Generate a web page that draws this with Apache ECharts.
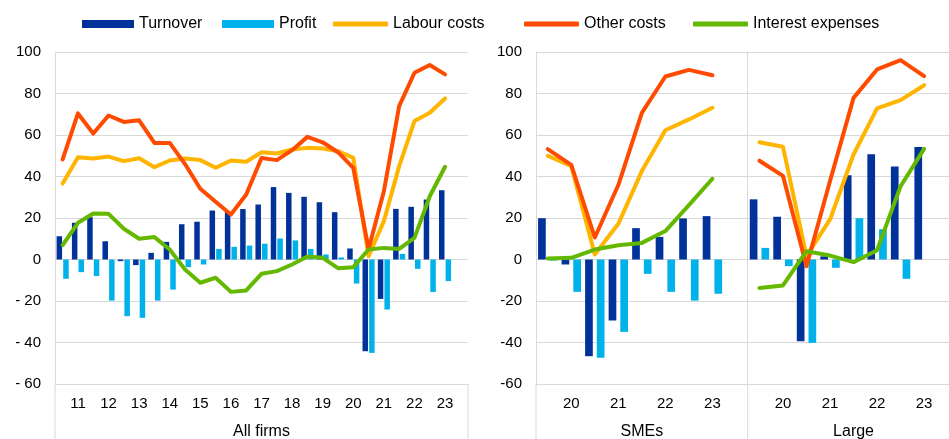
<!DOCTYPE html>
<html>
<head>
<meta charset="utf-8">
<script src="https://cdn.jsdelivr.net/npm/echarts@6/dist/echarts.min.js"></script>
<style>
  html, body { margin: 0; padding: 0; background: #fff; }
  #main { width: 949px; height: 439px; }
</style>
</head>
<body>
<div id="main"></div>
<script>
// tick labels, one per half-year slot (last slot is empty)
const allTicks = ['', '11', '', '12', '', '13', '', '14', '', '15', '', '16', '', '17', '', '18', '', '19', '', '20', '', '21', '', '22', '', '23', ''];
const subTicks = ['', '20', '', '21', '', '22', '', '23', ''];

// All firms
const turnoverAll = [11.2, 17.7, 20.4, 8.8, -0.8, -2.7, 3.2, 8.5, 17, 18.2, 23.6, 23, 24.3, 26.5, 34.9, 32.1, 30.2, 27.6, 22.8, 5.3, -44.2, -19, 24.4, 25.4, 28.9, 33.4];
const profitAll = [-9.3, -6.1, -8, -19.8, -27.3, -28.1, -19.8, -14.5, -3.7, -2.4, 5.1, 6.1, 6.7, 7.6, 10.1, 9.2, 5.1, 2.4, 1, -11.6, -45, -24.1, 2.7, -4.5, -15.7, -10.4];
const labourAll = [36.6, 49.3, 48.7, 49.6, 47.4, 48.8, 44.5, 47.7, 48.7, 47.9, 44.2, 47.7, 47.1, 51.7, 51.1, 53, 53.8, 53.5, 52.2, 49, 1.6, 18.5, 45, 66.7, 70.7, 77.6];
const otherAll = [48.2, 70.4, 60.7, 69.4, 66.3, 67.1, 56.2, 56.2, 46, 34.1, 27.8, 21.7, 31.3, 48.9, 47.9, 52.7, 59.1, 56.5, 51.7, 44.2, 5, 32.9, 73.9, 90, 93.7, 89.2];
const interestAll = [6.9, 17.7, 22.2, 22, 14.8, 10, 10.8, 4.8, -4.8, -11.2, -8.8, -15.6, -14.9, -6.9, -5.6, -2.4, 1.4, 0.8, -4.2, -3.7, 4.8, 5.6, 5.1, 10.4, 30.5, 44.7];

// SMEs
const turnoverSme = [19.9, -2.4, -46.6, -29.4, 15.1, 10.9, 19.8, 20.9];
const profitSme = [-0.5, -15.6, -47.4, -34.9, -6.9, -15.6, -19.8, -16.5];
const labourSme = [50, 45, 2.4, 17.2, 42.6, 62.3, 67.5, 73.1];
const otherSme = [53.2, 45.6, 10.6, 35.9, 70.7, 88.2, 91.4, 88.8];
const interestSme = [0.5, 0.8, 4.8, 6.9, 8, 13.7, 26.2, 38.9];

// Large
const turnoverLarge = [29, 20.6, -39.4, 1.5, 40.6, 50.7, 44.8, 54.2];
const profitLarge = [5.6, -3.2, -40.2, -4, 19.9, 14.6, -9.3, 0];
const labourLarge = [56.5, 54.3, 1.6, 19.3, 50.6, 72.8, 76.8, 84];
const otherLarge = [47.6, 40.3, -3.2, 37.8, 77.9, 91.6, 96.1, 88.4];
const interestLarge = [-13.7, -12.5, 4, 1.9, -1.3, 4.5, 35.3, 53.3];

const C_TURN = '#003299', C_PROF = '#00B1EA', C_LAB = '#FFB400', C_OTH = '#FF4B00', C_INT = '#65B800';
const FONT = "'Liberation Sans', Arial, sans-serif";
const GRID_TOP = 52, GRID_BOTTOM = 55, H = 439;
const panels = [
  { left: 55, width: 413, ticks: allTicks, name: 'All firms', bw: 5.5, gap: '20%',
    data: [turnoverAll, profitAll, labourAll, otherAll, interestAll], labels: true, minus: '- ' },
  { left: 536, width: 211.7, ticks: subTicks, name: 'SMEs', bw: 7.7, gap: '52%',
    data: [turnoverSme, profitSme, labourSme, otherSme, interestSme], labels: true, minus: '-' },
  { left: 747.7, width: 211.7, ticks: subTicks, name: 'Large', bw: 7.7, gap: '52%',
    data: [turnoverLarge, profitLarge, labourLarge, otherLarge, interestLarge], labels: false, minus: '-' }
];

const grid = [], xAxis = [], yAxis = [], series = [];
panels.forEach(function (p, k) {
  grid.push({ left: p.left, width: p.width, top: GRID_TOP, bottom: GRID_BOTTOM, outerBoundsMode: 'none', containLabel: false });
  xAxis.push({
    type: 'category', gridIndex: k, data: p.ticks.map(function (_, i) { return i; }),
    axisLine: { show: false, onZero: false }, axisTick: { show: false },
    axisLabel: { interval: 0, margin: 12, fontSize: 15, color: '#000', fontFamily: FONT,
      formatter: function (v, i) { return p.ticks[i]; } },
    name: p.name, nameLocation: 'middle', nameGap: 40,
    nameTextStyle: { fontSize: 16, color: '#000', fontFamily: FONT }
  });
  yAxis.push({
    type: 'value', gridIndex: k, min: -60, max: 100, interval: 20,
    axisLine: { show: true, lineStyle: { color: '#d9d9d9' } }, axisTick: { show: false },
    splitLine: { lineStyle: { color: '#d9d9d9' } },
    axisLabel: { show: p.labels, margin: 14, fontSize: 15, color: '#000', fontFamily: FONT,
      formatter: function (v) { return v < 0 ? p.minus + Math.abs(v) : String(v); } }
  });
  const names = ['Turnover', 'Profit', 'Labour costs', 'Other costs', 'Interest expenses'];
  const colors = [C_TURN, C_PROF, C_LAB, C_OTH, C_INT];
  names.forEach(function (n, j) {
    const s = { name: n, xAxisIndex: k, yAxisIndex: k, data: p.data[j], itemStyle: { color: colors[j] } };
    if (j < 2) {
      s.type = 'bar'; s.barWidth = p.bw; s.barGap = p.gap;
    } else {
      s.type = 'line'; s.showSymbol = false; s.symbol = 'none'; s.z = 3 + j;
      s.lineStyle = { width: 4, color: colors[j], join: 'round', cap: 'round' };
    }
    series.push(s);
  });
});

// separators of the category label area
const graphic = [55, 468, 536, 747.7].map(function (x) {
  return { type: 'line', shape: { x1: x, y1: H - GRID_BOTTOM, x2: x, y2: H }, style: { stroke: '#d9d9d9', lineWidth: 1 } };
});

function legendItem(name, left, icon, w, h) {
  return { left: left, top: 16, padding: 0, itemWidth: w, itemHeight: h, icon: icon, data: [name],
    textStyle: { fontSize: 16, color: '#000', fontFamily: FONT }, selectedMode: false };
}

const chart = echarts.init(document.getElementById('main'));
chart.setOption({
  animation: false,
  grid: grid, xAxis: xAxis, yAxis: yAxis, series: series, graphic: graphic,
  legend: [
    legendItem('Turnover', 82, 'rect', 52, 8),
    legendItem('Profit', 222, 'rect', 52, 8),
    legendItem('Labour costs', 333, 'roundRect', 55, 5),
    legendItem('Other costs', 524, 'roundRect', 55, 5),
    legendItem('Interest expenses', 693, 'roundRect', 55, 5)
  ]
});
</script>
</body>
</html>
